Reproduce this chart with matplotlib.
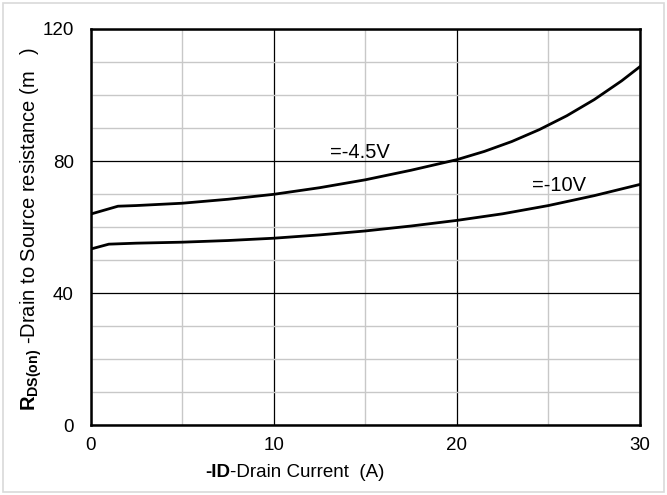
import matplotlib
matplotlib.use("Agg")
import matplotlib.pyplot as plt
from matplotlib.patches import Rectangle
from matplotlib.ticker import MultipleLocator

plt.rcParams['font.family'] = ['Liberation Sans', 'DejaVu Sans']
plt.rcParams['mathtext.fontset'] = 'custom'
plt.rcParams['mathtext.rm'] = 'Liberation Sans'
plt.rcParams['mathtext.bf'] = 'Liberation Sans:bold'

# Data
x_45 = [0, 1.5, 2.5, 5, 7.5, 10, 12.5, 15, 17.5, 20, 21.5, 23, 24.5, 26, 27.5, 29, 30]
y_45 = [63.9, 66.3, 66.5, 67.2, 68.4, 69.9, 71.9, 74.3, 77.2, 80.4, 82.9, 85.9, 89.5, 93.7, 98.6, 104.3, 108.6]
x_10 = [0, 1, 2.5, 5, 7.5, 10, 12.5, 15, 17.5, 20, 22.5, 25, 27.5, 30]
y_10 = [53.3, 54.8, 55.1, 55.4, 55.9, 56.6, 57.6, 58.8, 60.3, 62.0, 64.0, 66.5, 69.5, 72.9]
label_45 = "=-4.5V"
label_10 = "=-10V"
x_ticks = [0, 10, 20, 30]
y_ticks = [0, 40, 80, 120]

W, H = 667, 495
fig = plt.figure(figsize=(W / 100, H / 100), dpi=100)
ax = fig.add_axes([90.5 / W, 70 / H, 549.5 / W, 396 / H])

fig.patches.append(Rectangle((0.005, 0.006), 0.99, 0.988, transform=fig.transFigure,
                             fill=False, edgecolor='#d9d9d9', linewidth=1.2))

ax.set_xlim(0, 30)
ax.set_ylim(0, 120)
ax.set_xticks(x_ticks)
ax.set_yticks(y_ticks)
ax.xaxis.set_minor_locator(MultipleLocator(5))
ax.yaxis.set_minor_locator(MultipleLocator(10))
ax.grid(which='minor', color='#c8c8c8', linewidth=1.0)
ax.grid(which='major', color='black', linewidth=0.9)
ax.set_axisbelow(True)
ax.tick_params(which='both', length=0, labelsize=13.5)
ax.tick_params(axis='x', pad=9)
ax.tick_params(axis='y', pad=12)

for s in ax.spines.values():
    s.set_linewidth(1.8)
    s.set_color('black')

ax.plot(x_45, y_45, color='black', linewidth=2.0)
ax.plot(x_10, y_10, color='black', linewidth=2.0)

ax.text(13.05, 79.6, label_45, fontsize=14.5, va='bottom', ha='left')
ax.text(24.1, 69.6, label_10, fontsize=14.5, va='bottom', ha='left')

# x label (bold "-ID" then normal text)
t1 = fig.text(205 / W, 14 / H, '-ID', fontsize=13.5, fontweight='bold', ha='left', va='bottom')
ax.annotate('-Drain Current  (A)', xy=(1, 0), xycoords=t1, fontsize=13.5,
            ha='left', va='bottom', annotation_clip=False)

# y label
fig.text(31 / W, (H - 229) / H,
         r'$\mathbf{R}_{\mathbf{DS(on)}}$ -Drain to Source resistance (m   )',
         fontsize=14.5, rotation=90, ha='center', va='center')

fig.savefig('out.png', dpi=100)
